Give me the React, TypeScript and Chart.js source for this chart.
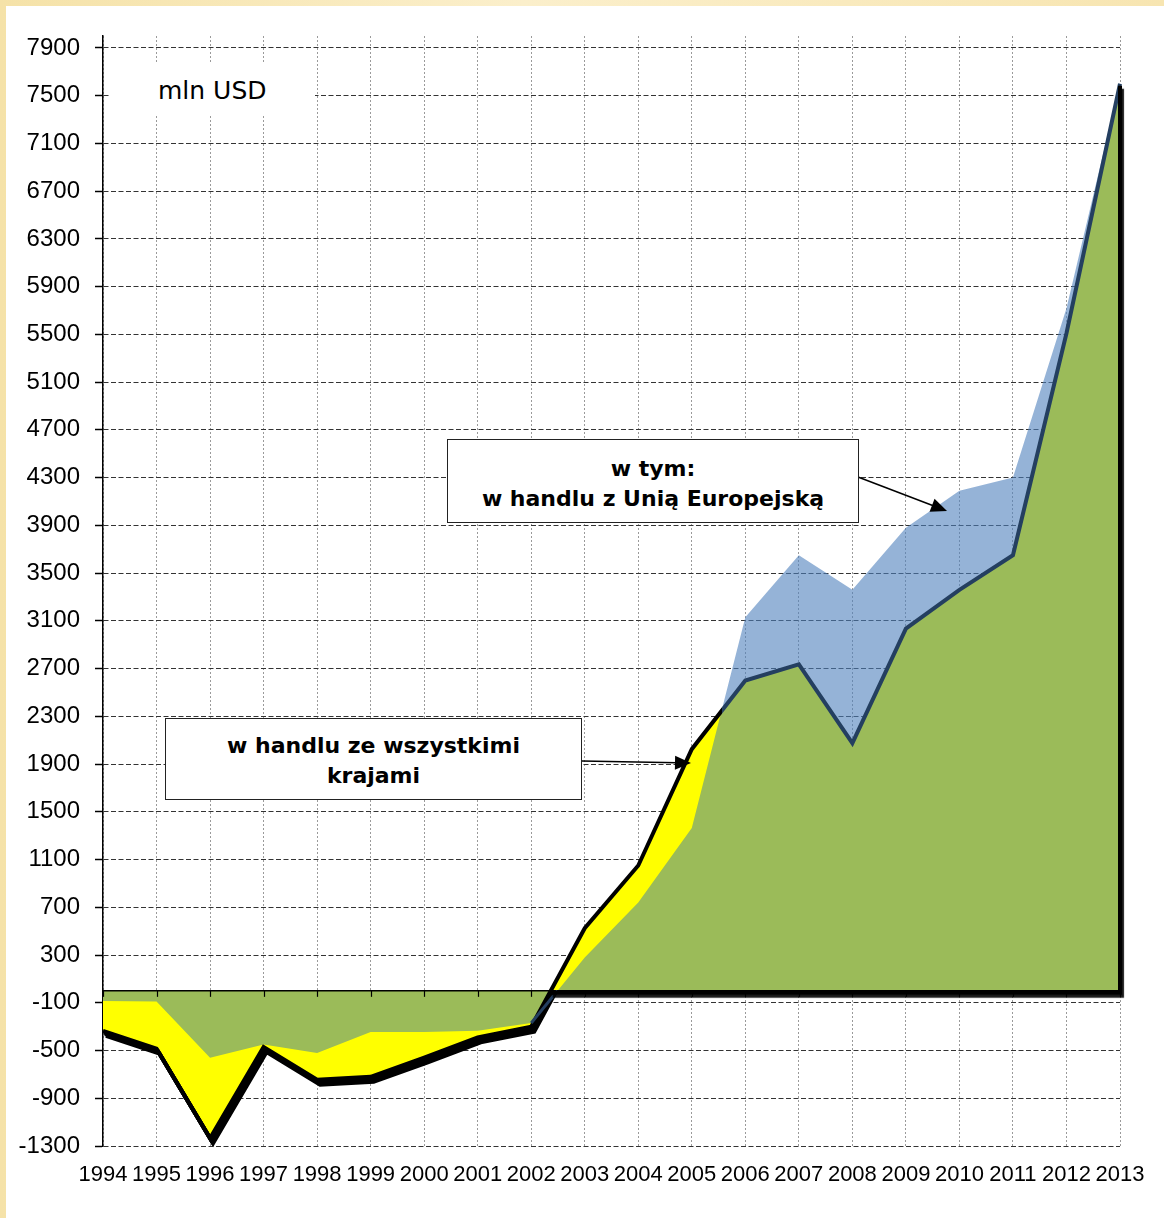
import React, { useEffect, useRef } from 'react';
import { Chart, registerables } from 'chart.js';

Chart.register(...registerables);

// ---------- data ----------
const years = ['1994', '1995', '1996', '1997', '1998', '1999', '2000', '2001', '2002', '2003', '2004', '2005', '2006', '2007', '2008', '2009', '2010', '2011', '2012', '2013'];
// saldo w handlu ze wszystkimi krajami (mln USD)
const allCountries = [-335, -485, -1235, -470, -745, -720, -560, -390, -300, 525, 1050, 2025, 2600, 2735, 2075, 3035, 3360, 3650, 5510, 7600];
// w tym: w handlu z Unią Europejską (mln USD)
const euTrade = [-85, -90, -560, -450, -520, -345, -345, -335, -270, 280, 740, 1365, 3130, 3650, 3360, 3880, 4190, 4300, 5720, 7610];
const yTickValues = [-1300, -900, -500, -100, 300, 700, 1100, 1500, 1900, 2300, 2700, 3100, 3500, 3900, 4300, 4700, 5100, 5500, 5900, 6300, 6700, 7100, 7500, 7900];
const Y_MIN = -1300;
const Y_MAX = 8000;
const unitLabel = 'mln USD';
const euLabelLines = ['w tym:', 'w handlu z Unią Europejską'];
const allLabelLines = ['w handlu ze wszystkimi', 'krajami'];

// ---------- styles ----------
const GREEN = '#9BBB59';
const BLUE = 'rgba(79,129,189,0.6)';
const YELLOW = '#FFFF00';
const DARK = '#243F60';
const CLEAR = 'rgba(0,0,0,0)';
const AXIS_FONT = "'Liberation Sans', Arial, sans-serif";
const TEXT_FONT = "'DejaVu Sans', Verdana, sans-serif";

// fractional index where EU series rises above the "all" series (positive region)
function euOverAllIndex(a: number[], b: number[]) {
  for (let i = 0; i < a.length - 1; i++) {
    const d0 = a[i] - b[i];
    const d1 = a[i + 1] - b[i + 1];
    if (a[i] > 0 && d0 > 0 && d1 < 0) return i + d0 / (d0 - d1);
  }
  return a.length - 1;
}
// fractional index where a series crosses zero upwards
function zeroCrossIndex(a: number[]) {
  for (let i = 0; i < a.length - 1; i++) {
    if (a[i] < 0 && a[i + 1] >= 0) return { i, f: i + a[i] / (a[i] - a[i + 1]) };
  }
  return { i: 0, f: 0 };
}

const EU_OVER_ALL = euOverAllIndex(allCountries, euTrade);

function allLineColor(c: any) {
  const chart = c.chart;
  const area = chart.chartArea;
  const xs = chart.scales && chart.scales.x;
  if (!area || !xs) return '#000';
  const xc = xs.getPixelForValue(EU_OVER_ALL);
  const f = Math.max(0, Math.min(1, (xc - area.left) / (area.right - area.left)));
  const g = chart.ctx.createLinearGradient(area.left, 0, area.right, 0);
  g.addColorStop(0, '#000');
  g.addColorStop(f, '#000');
  g.addColorStop(Math.min(1, f + 0.0005), DARK);
  g.addColorStop(1, DARK);
  return g;
}

const decor = {
  id: 'decor',
  beforeDatasetDraw(chart: any, args: any) {
    if (args.index !== 4) return;
    const { ctx, chartArea } = chart;
    const y0 = chart.scales.y.getPixelForValue(0);
    const offsets = [
      [1, 1.7],
      [2, 3.4],
      [3, 5],
    ];
    offsets.forEach(([dx, dy]) => {
      ctx.save();
      ctx.beginPath();
      ctx.rect(chartArea.left - 5, y0 + 2, chartArea.right - chartArea.left + 10, chartArea.bottom - y0 + 20);
      ctx.clip();
      ctx.translate(dx, dy);
      args.meta.dataset.draw(ctx, chartArea);
      ctx.restore();
    });
  },
  afterDatasetsDraw(chart: any) {
    const { ctx, chartArea } = chart;
    const x = chart.scales.x;
    const y = chart.scales.y;
    const y0 = y.getPixelForValue(0);
    ctx.save();
    // zero axis with tick marks
    ctx.strokeStyle = '#000';
    ctx.lineWidth = 1.5;
    ctx.beginPath();
    ctx.moveTo(chartArea.left, y0);
    ctx.lineTo(chartArea.right, y0);
    ctx.stroke();
    ctx.lineWidth = 1.2;
    years.forEach((_, i) => {
      const px = Math.round(x.getPixelForValue(i)) + 0.5;
      ctx.beginPath();
      ctx.moveTo(px, y0);
      ctx.lineTo(px, y0 + 6);
      ctx.stroke();
    });
    // EU border segment below zero (2002 -> crossing)
    const euZ = zeroCrossIndex(euTrade);
    ctx.strokeStyle = DARK;
    ctx.lineWidth = 3;
    ctx.beginPath();
    ctx.moveTo(x.getPixelForValue(euZ.i), y.getPixelForValue(euTrade[euZ.i]));
    ctx.lineTo(x.getPixelForValue(euZ.f), y0);
    ctx.stroke();
    // thick outline of the positive "all" area along the baseline and right edge
    const allZ = zeroCrossIndex(allCountries);
    const last = allCountries.length - 1;
    const xz = x.getPixelForValue(allZ.f);
    const xl = x.getPixelForValue(last);
    const yl = y.getPixelForValue(allCountries[last]);
    ctx.strokeStyle = '#000';
    ctx.lineWidth = 4;
    ctx.lineJoin = 'miter';
    ctx.shadowColor = 'rgba(0,0,0,0.9)';
    ctx.shadowOffsetX = 2;
    ctx.shadowOffsetY = 3;
    ctx.shadowBlur = 1;
    ctx.beginPath();
    ctx.moveTo(xz, y0 + 2);
    ctx.lineTo(xl, y0 + 2);
    ctx.lineTo(xl, yl + 2);
    ctx.stroke();
    ctx.restore();
  },
};

function baseArea(data: number[], above: string, below: string, target: any, order: number) {
  return {
    data,
    fill: { target, above, below },
    borderColor: CLEAR,
    backgroundColor: CLEAR,
    borderWidth: 0,
    pointRadius: 0,
    order,
  };
}

function Arrow({ x1, y1, x2, y2 }: { x1: number; y1: number; x2: number; y2: number }) {
  const dx = x2 - x1;
  const dy = y2 - y1;
  const len = Math.hypot(dx, dy);
  const ux = dx / len;
  const uy = dy / len;
  const hl = 16;
  const hw = 7;
  const bx = x2 - ux * hl;
  const by = y2 - uy * hl;
  const pts = `${x2},${y2} ${bx - uy * hw},${by + ux * hw} ${bx + uy * hw},${by - ux * hw}`;
  return (
    <g>
      <line x1={x1} y1={y1} x2={bx + ux * 2} y2={by + uy * 2} stroke="#000" strokeWidth={1.5} />
      <polygon points={pts} fill="#000" />
    </g>
  );
}

const boxStyle: React.CSSProperties = {
  position: 'absolute',
  boxSizing: 'border-box',
  background: '#fff',
  border: '1.5px solid #222',
  display: 'flex',
  flexDirection: 'column',
  alignItems: 'center',
  justifyContent: 'center',
  fontFamily: TEXT_FONT,
  fontWeight: 'bold',
  fontSize: 22,
  lineHeight: '30px',
  color: '#000',
  whiteSpace: 'nowrap',
};

export default function App() {
  const ref = useRef<HTMLCanvasElement>(null);

  useEffect(() => {
    document.body.style.margin = '0';
    const canvas = ref.current;
    if (!canvas) return;
    const chart = new Chart(canvas, {
      type: 'line',
      data: {
        labels: years,
        datasets: [
          baseArea(allCountries, GREEN, CLEAR, 'origin', 5),
          baseArea(euTrade, BLUE, YELLOW, 0, 4),
          baseArea(allCountries, CLEAR, YELLOW, 'origin', 3),
          baseArea(euTrade, CLEAR, GREEN, 'origin', 2),
          {
            data: allCountries,
            fill: false,
            borderColor: allLineColor,
            borderWidth: 4,
            borderJoinStyle: 'miter',
            pointRadius: 0,
            order: 1,
          },
        ] as any,
      },
      options: {
        responsive: false,
        animation: false,
        events: [],
        layout: { padding: { top: 36, right: 44, bottom: 0, left: 0 } },
        elements: { line: { tension: 0 } },
        plugins: {
          legend: { display: false },
          tooltip: { enabled: false },
        },
        scales: {
          x: {
            type: 'category',
            offset: false,
            grid: { color: '#9a9a9a', lineWidth: 1, drawTicks: false, offset: false },
            border: { display: false, dash: [2, 2] },
            ticks: {
              color: '#000',
              font: { family: AXIS_FONT, size: 22 },
              autoSkip: false,
              maxRotation: 0,
              minRotation: 0,
              padding: 16,
            },
            afterFit: (s: any) => {
              s.height = 72;
            },
          },
          y: {
            type: 'linear',
            min: Y_MIN,
            max: Y_MAX,
            afterBuildTicks: (s: any) => {
              s.ticks = yTickValues.map((v) => ({ value: v }));
            },
            afterFit: (s: any) => {
              s.width = 103;
            },
            grid: {
              color: '#333',
              lineWidth: 1,
              tickLength: 8,
              tickColor: '#000',
              tickWidth: 1.5,
              tickBorderDash: [],
            },
            border: { display: true, color: '#000', width: 1.5, dash: [5, 2.5] },
            ticks: {
              color: '#000',
              font: { family: AXIS_FONT, size: 24 },
              padding: 15,
              callback: (v: any) => String(v),
            },
          },
        } as any,
      },
      plugins: [decor],
    } as any);
    return () => chart.destroy();
  }, []);

  return (
    <div
      style={{
        position: 'relative',
        width: 1164,
        height: 1218,
        overflow: 'hidden',
        background: 'linear-gradient(90deg, #F5E2A8 0%, #FBEFCB 45%, #F7E5B1 100%)',
      }}
    >
      <div style={{ position: 'absolute', left: 6, top: 6, right: 0, bottom: 0, background: '#fff' }} />
      <canvas
        ref={ref}
        width={1164}
        height={1218}
        style={{ position: 'absolute', left: 0, top: 0, width: 1164, height: 1218 }}
      />
      <div
        style={{
          position: 'absolute',
          left: 110,
          top: 62,
          width: 205,
          height: 54,
          background: '#fff',
        }}
      >
        <span
          style={{
            position: 'absolute',
            left: 48,
            top: 16,
            fontFamily: TEXT_FONT,
            fontSize: 25,
            lineHeight: '25px',
            color: '#000',
            whiteSpace: 'nowrap',
          }}
        >
          {unitLabel}
        </span>
      </div>
      <svg
        width={1164}
        height={1218}
        style={{ position: 'absolute', left: 0, top: 0, pointerEvents: 'none' }}
      >
        <Arrow x1={582} y1={761} x2={691} y2={763} />
        <Arrow x1={858} y1={477} x2={947} y2={511} />
      </svg>
      <div style={{ ...boxStyle, left: 447, top: 439, width: 412, height: 84, paddingTop: 6 }}>
        {euLabelLines.map((t) => (
          <div key={t}>{t}</div>
        ))}
      </div>
      <div style={{ ...boxStyle, left: 165, top: 718, width: 417, height: 82, paddingTop: 4 }}>
        {allLabelLines.map((t) => (
          <div key={t}>{t}</div>
        ))}
      </div>
    </div>
  );
}
